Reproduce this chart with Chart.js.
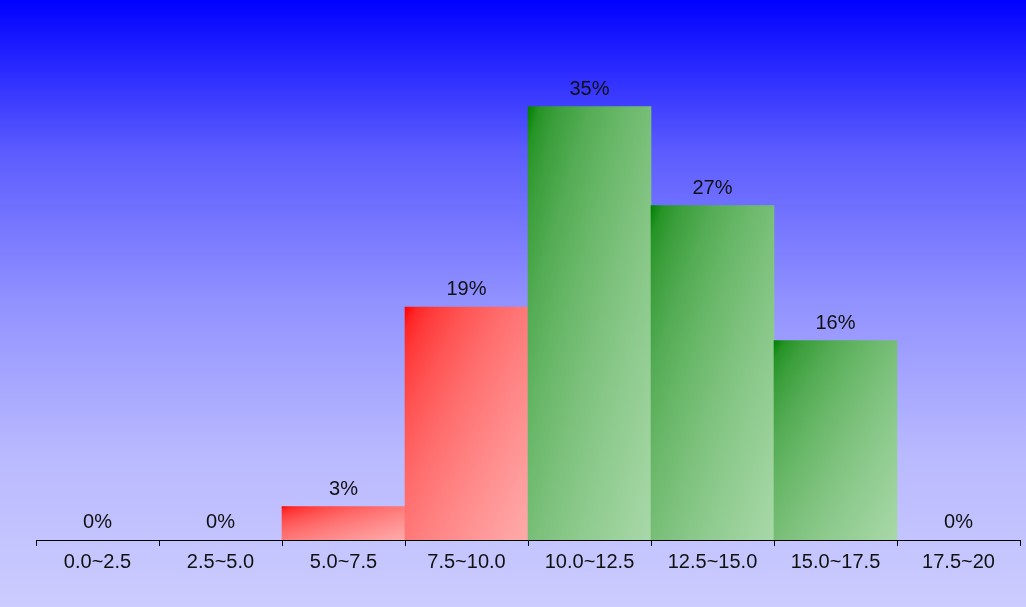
<!DOCTYPE html>
<html>
<head>
<meta charset="utf-8">
<script src="https://cdn.jsdelivr.net/npm/chart.js@4/dist/chart.umd.min.js"></script>
<style>
  html, body { margin: 0; padding: 0; }
  #wrap { width: 1026px; height: 607px; }
</style>
</head>
<body>
<div id="wrap"><canvas id="hist" width="1026" height="607"></canvas></div>
<script>
// bins and share of values in each (percent)
const binLabels = ['0.0~2.5', '2.5~5.0', '5.0~7.5', '7.5~10.0', '10.0~12.5', '12.5~15.0', '15.0~17.5', '17.5~20'];
const binShares = [0, 0, 2.7, 18.8, 35.0, 27.0, 16.1, 0];
const yMax = 43.6;

// bins below 10 are red, the rest green (dark corner, light corner)
const RED = [[255, 0, 0], [255, 170, 170]];
const GREEN = [[0, 128, 0], [168, 216, 168]];
const FONT = '"Liberation Sans", Arial, sans-serif';

function mix(a, b, f) {
    return 'rgb(' + a.map((v, j) => Math.round(v + (b[j] - v) * f)).join(',') + ')';
}

// corner to corner gradient (bounding-box style), eased so it lightens fast
function barGradient(ctx) {
    const chart = ctx.chart;
    const i = ctx.dataIndex;
    if (!chart.chartArea || !binShares[i]) return 'rgba(0,0,0,0)';
    const xs = chart.scales.x, ys = chart.scales.y;
    const w = xs.getPixelForValue(1) - xs.getPixelForValue(0);
    const x0 = xs.getPixelForValue(i) - w / 2;
    const y0 = ys.getPixelForValue(binShares[i]);
    const h = ys.getPixelForValue(0) - y0;
    const pal = i < 4 ? RED : GREEN;
    const k = 2 * w * h / (w * w + h * h);
    const g = chart.ctx.createLinearGradient(x0, y0, x0 + h * k, y0 + w * k);
    [0, 0.05, 0.12, 0.25, 0.4, 0.55, 0.7, 0.85, 1].forEach(t => {
        g.addColorStop(t, mix(pal[0], pal[1], Math.sqrt(t)));
    });
    return g;
}

const bgPlugin = {
    id: 'bg',
    beforeDraw(chart) {
        const c = chart.ctx;
        const g = c.createLinearGradient(0, 0, 0, chart.height);
        g.addColorStop(0, '#0000ff');
        g.addColorStop(0.25, '#5c5cff');
        g.addColorStop(0.5, '#9292ff');
        g.addColorStop(0.75, '#b9b9ff');
        g.addColorStop(1, '#ccccff');
        c.save();
        c.fillStyle = g;
        c.fillRect(0, 0, chart.width, chart.height);
        c.restore();
    }
};

const labelPlugin = {
    id: 'pctLabels',
    afterDatasetsDraw(chart) {
        const c = chart.ctx;
        const xs = chart.scales.x, ys = chart.scales.y;
        c.save();
        c.font = '20px ' + FONT;
        c.fillStyle = '#111';
        c.textAlign = 'center';
        c.textBaseline = 'alphabetic';
        binShares.forEach((v, i) => {
            c.fillText(Math.round(v) + '%', xs.getPixelForValue(i), ys.getPixelForValue(v) - 12);
        });
        c.restore();
    }
};

new Chart(document.getElementById('hist'), {
    type: 'bar',
    data: {
        labels: binLabels,
        datasets: [{
            data: binShares,
            backgroundColor: barGradient,
            borderWidth: 0,
            categoryPercentage: 1,
            barPercentage: 1
        }]
    },
    options: {
        responsive: false,
        animation: false,
        layout: { padding: { top: 0, left: 36, right: 6, bottom: 29 } },
        plugins: { legend: { display: false }, tooltip: { enabled: false } },
        scales: {
            x: {
                grid: { display: true, drawOnChartArea: false, drawTicks: true, tickLength: 6, color: '#000', lineWidth: 1 },
                border: { display: true, color: '#000', width: 1 },
                ticks: { color: '#111', padding: 4, font: { family: FONT, size: 20 } }
            },
            y: { display: false, min: 0, max: yMax }
        }
    },
    plugins: [bgPlugin, labelPlugin]
});
</script>
</body>
</html>
